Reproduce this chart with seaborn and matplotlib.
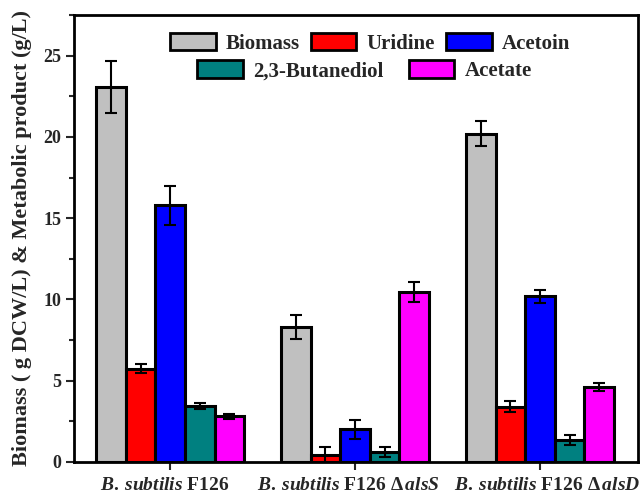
import matplotlib
matplotlib.use("Agg")
import matplotlib.pyplot as plt
import matplotlib.transforms as mtransforms
import seaborn as sns
import pandas as pd
import numpy as np
from matplotlib.patches import Patch
from matplotlib.ticker import MultipleLocator

strains = ["B. subtilis F126", "B. subtilis F126 ΔalsS", "B. subtilis F126 ΔalsD"]
tick_labels = [r"$\mathit{B.\:subtilis}\ \mathrm{F126}$",
               r"$\mathit{B.\:subtilis}\ \mathrm{F126}\ \mathit{Δ\,alsS}$",
               r"$\mathit{B.\:subtilis}\ \mathrm{F126}\ \mathit{Δ\,alsD}$"]
products = ["Biomass", "Uridine", "Acetoin", "2,3-Butanediol", "Acetate"]
biomass = [23.1, 8.3, 20.2]
uridine = [5.75, 0.45, 3.4]
acetoin = [15.8, 2.0, 10.2]
butanediol = [3.45, 0.6, 1.35]
acetate = [2.8, 10.45, 4.6]
biomass_err = [1.6, 0.75, 0.75]
uridine_err = [0.3, 0.5, 0.35]
acetoin_err = [1.2, 0.6, 0.4]
butanediol_err = [0.2, 0.3, 0.3]
acetate_err = [0.15, 0.6, 0.25]
colors = ["#C0C0C0", "#FF0000", "#0000FF", "#008080", "#FF00FF"]

values = [biomass, uridine, acetoin, butanediol, acetate]
errors = [biomass_err, uridine_err, acetoin_err, butanediol_err, acetate_err]
rows = []
for p, vals, errs in zip(products, values, errors):
    for s, v, e in zip(strains, vals, errs):
        rows.append({"Strain": s, "Product": p, "Value": v, "Err": e})
df = pd.DataFrame(rows)

sns.set_style("white")
plt.rcParams["font.family"] = ["Liberation Serif", "DejaVu Serif"]
plt.rcParams["font.weight"] = "bold"
plt.rcParams["mathtext.fontset"] = "custom"
plt.rcParams["mathtext.rm"] = "Liberation Serif:bold"
plt.rcParams["mathtext.it"] = "Liberation Serif:bold:italic"
plt.rcParams["mathtext.bf"] = "Liberation Serif:bold"

fig = plt.figure(figsize=(6.44, 4.96), dpi=100)
ax = fig.add_axes([74/644, 1-462/496, (638-74)/644, (462-15)/496])

sns.barplot(data=df, x="Strain", y="Value", hue="Product", order=strains,
            hue_order=products, palette=colors, errorbar=None, width=0.8,
            edgecolor="black", linewidth=2.2, saturation=1, ax=ax, legend=False)

for cont, p in zip(ax.containers, products):
    sub = df[df["Product"] == p].set_index("Strain").loc[strains]
    xs = [b.get_x() + b.get_width() / 2 for b in cont]
    ax.errorbar(xs, sub["Value"].values, yerr=sub["Err"].values, fmt="none",
                ecolor="black", elinewidth=1.5, capsize=4.5, capthick=1.5, zorder=5)

ax.set_xlim(-0.52, 2.53)
ax.set_ylim(0, 27.5)
ax.set_yticks([0, 5, 10, 15, 20, 25])
ax.yaxis.set_minor_locator(MultipleLocator(2.5))
ax.set_xticks([0, 1, 2])
ax.set_xticklabels(tick_labels, fontsize=14, fontweight="bold")
ax.tick_params(axis="y", which="major", labelsize=13, direction="out", length=6, width=1.5, left=True, pad=3)
ax.tick_params(axis="y", which="minor", direction="out", length=3.5, width=1.5, left=True)
ax.tick_params(axis="x", direction="out", length=6, width=1.5, bottom=True, pad=5)
for lab in ax.get_yticklabels():
    lab.set_fontweight("bold")
shifts = [-5, -7, 7]
for lab, dx in zip(ax.get_xticklabels(), shifts):
    lab.set_transform(lab.get_transform() +
                      mtransforms.ScaledTranslation(dx / 100, 0, fig.dpi_scale_trans))
ax.set_xlabel("")
ax.set_ylabel("Biomass ( g DCW/L) & Metabolic product (g/L)", fontsize=16,
              fontweight="bold", labelpad=8)
for sp in ax.spines.values():
    sp.set_linewidth(2)
    sp.set_color("black")

h1 = [Patch(facecolor=c, edgecolor="black", linewidth=2) for c in colors[:3]]
h2 = [Patch(facecolor=c, edgecolor="black", linewidth=2) for c in colors[3:]]
leg1 = ax.legend(h1, products[:3], ncol=3, loc="center", bbox_to_anchor=(0.525, 0.937),
                 frameon=False, handlelength=2.2, handleheight=0.9,
                 columnspacing=0.5, handletextpad=0.5, borderaxespad=0,
                 prop={"weight": "bold", "size": 15})
ax.add_artist(leg1)
ax.legend(h2, products[3:], ncol=2, loc="center", bbox_to_anchor=(0.515, 0.875),
          frameon=False, handlelength=2.2, handleheight=0.9,
          columnspacing=1.2, handletextpad=0.5, borderaxespad=0,
          prop={"weight": "bold", "size": 15})

fig.savefig("out.png", dpi=100)
